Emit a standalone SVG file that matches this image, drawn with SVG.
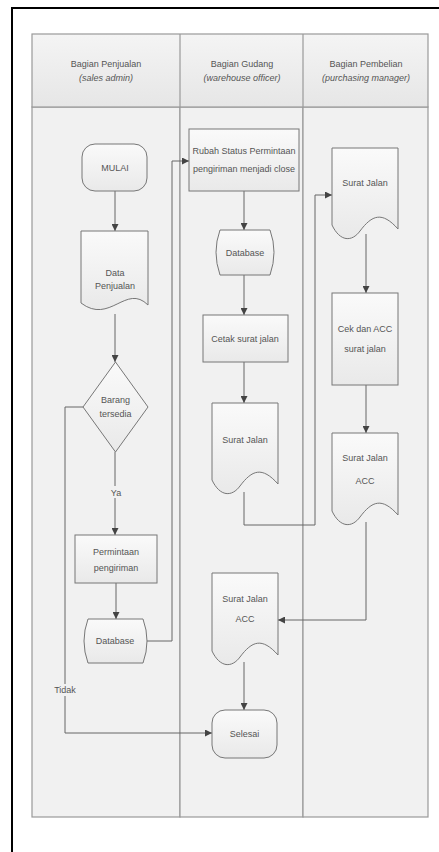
<svg xmlns="http://www.w3.org/2000/svg" width="439" height="852" viewBox="0 0 439 852">
<style>
.t{font-family:"Liberation Sans Narrow","Liberation Sans",Arial,sans-serif;font-size:9px;fill:#555;text-anchor:middle}
.n{fill:url(#ng);stroke:#777;stroke-width:1}
.c{fill:none;stroke:#666;stroke-width:1}
.lane{fill:#f1f1f1;stroke:#999;stroke-width:1.2}
</style>
<defs>
<linearGradient id="ng" x1="0" y1="0" x2="0" y2="1"><stop offset="0" stop-color="#fafafa"/><stop offset="1" stop-color="#e9e9e9"/></linearGradient>
<linearGradient id="hg" x1="0" y1="0" x2="0" y2="1"><stop offset="0" stop-color="#f4f4f4"/><stop offset="1" stop-color="#e6e6e6"/></linearGradient>
<marker id="a" viewBox="0 0 8 8" refX="8" refY="4" markerWidth="7" markerHeight="7" orient="auto" markerUnits="userSpaceOnUse"><path d="M0,0 L8,4 L0,8 Z" fill="#444"/></marker>
</defs>
<rect width="439" height="852" fill="#fff"/>
<path d="M12,852 V8 H439" fill="none" stroke="#000" stroke-width="2"/>
<g id="lanes">
<rect class="lane" x="32" y="107" width="148" height="710"/>
<rect class="lane" x="180" y="107" width="123" height="710"/>
<rect class="lane" x="303" y="107" width="125" height="710"/>
<rect x="32" y="34" width="396" height="73" fill="url(#hg)" stroke="#999" stroke-width="1.2"/>
<line x1="180" y1="34" x2="180" y2="107" stroke="#999" stroke-width="1.2"/>
<line x1="303" y1="34" x2="303" y2="107" stroke="#999" stroke-width="1.2"/>
<text class="t" x="106" y="67">Bagian Penjualan</text>
<text class="t" x="106" y="81" font-style="italic">(sales admin)</text>
<text class="t" x="242" y="67">Bagian Gudang</text>
<text class="t" x="242" y="81" font-style="italic">(warehouse officer)</text>
<text class="t" x="366" y="67">Bagian Pembelian</text>
<text class="t" x="366" y="81" font-style="italic">(purchasing manager)</text>
</g>
<g id="connectors">
<path class="c" d="M115,191 V231" marker-end="url(#a)"/>
<path class="c" d="M115,314 V362" marker-end="url(#a)"/>
<path class="c" d="M115,452 V535" marker-end="url(#a)"/>
<path class="c" d="M116,583 V619" marker-end="url(#a)"/>
<path class="c" d="M147,641 H172 V161 H189" marker-end="url(#a)"/>
<path class="c" d="M244,191 V230" marker-end="url(#a)"/>
<path class="c" d="M244,275 V315" marker-end="url(#a)"/>
<path class="c" d="M244,362 V403" marker-end="url(#a)"/>
<path class="c" d="M244,492 V525 H315 V195 H332" marker-end="url(#a)"/>
<path class="c" d="M366,234 V293" marker-end="url(#a)"/>
<path class="c" d="M366,385 V433" marker-end="url(#a)"/>
<path class="c" d="M366,522 V620 H278" marker-end="url(#a)"/>
<path class="c" d="M244,662 V710" marker-end="url(#a)"/>
<path class="c" d="M83,407 H65 V733 H212" marker-end="url(#a)"/>
<rect x="110" y="486" width="12" height="12" fill="#f1f1f1"/>
<text class="t" x="116" y="496">Ya</text>
<rect x="54" y="684" width="22" height="12" fill="#f1f1f1"/>
<text class="t" x="65" y="693">Tidak</text>
</g>
<g id="mulai">
<rect class="n" x="82" y="144" width="65" height="47" rx="13"/>
<text class="t" x="115" y="171">MULAI</text>
</g>
<g id="data-penjualan">
<path class="n" d="M81,231 H148 V305 C126,283 110,325 81,303 Z"/>
<text class="t" x="115" y="276">Data</text>
<text class="t" x="115" y="289">Penjualan</text>
</g>
<g id="barang-tersedia">
<path class="n" d="M115.5,362 L148,407 L115.5,452 L83,407 Z"/>
<text class="t" x="115.5" y="403">Barang</text>
<text class="t" x="115.5" y="417">tersedia</text>
</g>
<g id="permintaan-pengiriman">
<rect class="n" x="75" y="535" width="82" height="48"/>
<text class="t" x="116" y="555">Permintaan</text>
<text class="t" x="116" y="571">pengiriman</text>
</g>
<g id="database-1">
<path class="n" d="M88,619 H143 Q151,641 143,663 H88 Q80,641 88,619 Z"/>
<text class="t" x="115" y="644">Database</text>
</g>
<g id="rubah-status">
<rect class="n" x="189" y="129" width="110" height="62"/>
<text class="t" x="244" y="154">Rubah Status Permintaan</text>
<text class="t" x="244" y="172">pengiriman menjadi close</text>
</g>
<g id="database-2">
<path class="n" d="M220,230 H270 Q278,252 270,275 H220 Q212,252 220,230 Z"/>
<text class="t" x="245" y="256">Database</text>
</g>
<g id="cetak-surat-jalan">
<rect class="n" x="203" y="315" width="85" height="47"/>
<text class="t" x="245" y="342">Cetak surat jalan</text>
</g>
<g id="surat-jalan-gudang">
<path class="n" d="M212,403 H278 V484 C262,466 252,470 240,486 C232,497 220,497 212,480 Z"/>
<text class="t" x="245" y="443">Surat Jalan</text>
</g>
<g id="surat-jalan-pembelian">
<path class="n" d="M332,148 H398 V229 C382,211 372,215 360,231 C352,242 340,242 332,225 Z"/>
<text class="t" x="365" y="186">Surat Jalan</text>
</g>
<g id="cek-acc">
<rect class="n" x="332" y="293" width="66" height="92"/>
<text class="t" x="365" y="332">Cek dan ACC</text>
<text class="t" x="365" y="352">surat jalan</text>
</g>
<g id="surat-jalan-acc-pembelian">
<path class="n" d="M332,433 H398 V515 C382,497 372,501 360,517 C352,528 340,528 332,511 Z"/>
<text class="t" x="365" y="461">Surat Jalan</text>
<text class="t" x="365" y="484">ACC</text>
</g>
<g id="surat-jalan-acc-gudang">
<path class="n" d="M212,573 H278 V655 C262,637 252,641 240,657 C232,668 220,668 212,651 Z"/>
<text class="t" x="245" y="602">Surat Jalan</text>
<text class="t" x="245" y="622">ACC</text>
</g>
<g id="selesai">
<rect class="n" x="212" y="710" width="65" height="48" rx="13"/>
<text class="t" x="244.5" y="737">Selesai</text>
</g>
</svg>
